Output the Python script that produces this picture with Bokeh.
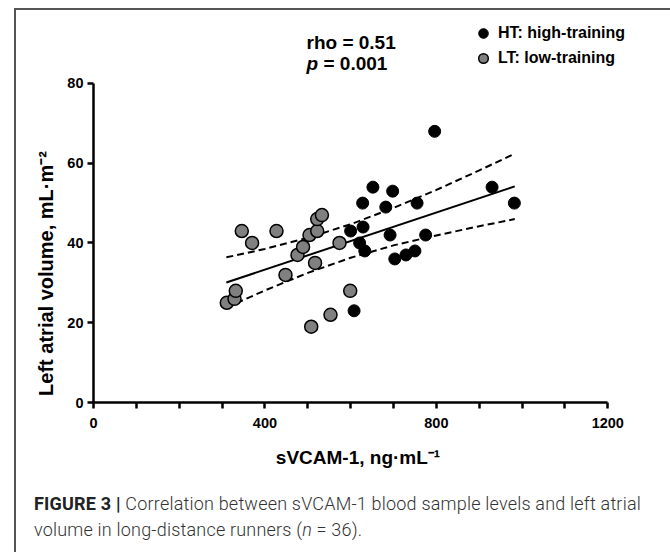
from bokeh.plotting import figure
from bokeh.models import (Label, Legend, LegendItem, Div, FixedTicker, Range1d,
                          ColumnDataSource)
from bokeh.layouts import column
from bokeh.embed import file_html
from bokeh.resources import INLINE

# ---- data ----
ht_x = [600, 608, 621, 628, 629, 633, 652, 682, 692, 698, 703, 729, 750, 755, 775, 796, 930, 982]
ht_y = [43, 23, 40, 50, 44, 38, 54, 49, 42, 53, 36, 37, 38, 50, 42, 68, 54, 50]
lt_x = [311, 329, 332, 346, 370, 427, 448, 476, 489, 504, 517, 522, 522, 533, 508, 553, 599, 574]
lt_y = [25, 26, 28, 43, 40, 43, 32, 37, 39, 42, 35, 43, 46, 47, 19, 22, 28, 40]
fit_x = [310, 983]
fit_y = [30.1, 54.2]
band_x = [310, 400, 500, 600, 700, 800, 900, 983]
band_upper = [36.4, 38.5, 41.3, 44.7, 48.8, 53.3, 58.2, 62.4]
band_lower = [23.8, 28.1, 32.5, 36.3, 39.4, 41.9, 44.2, 46.0]
x_ticks = [0, 400, 800, 1200]
x_minor = [100, 200, 300, 500, 600, 700, 900, 1000, 1100]
y_ticks = [0, 20, 40, 60, 80]

FONT = "Liberation Sans"
EM = "\u2003"

# frame is larger than the axes (room for legend / stats text); axes drawn with bounds
p = figure(width=648, height=460, output_backend="svg", toolbar_location=None,
           x_range=Range1d(0, 1323), y_range=Range1d(0, 97.3),
           min_border_left=77, min_border_right=4, min_border_top=4,
           min_border_bottom=68)
p.outline_line_color = None
p.xgrid.visible = False
p.ygrid.visible = False

for ax in (p.xaxis[0], p.yaxis[0]):
    ax.axis_line_width = 2.5
    ax.axis_line_color = "black"
    ax.major_tick_line_width = 2.5
    ax.major_tick_line_color = "black"
    ax.major_tick_in = 0
    ax.major_tick_out = 6
    ax.minor_tick_in = 0
    ax.minor_tick_out = 6
    ax.minor_tick_line_width = 2.5
    ax.minor_tick_line_color = "black"
    ax.major_label_text_font = FONT
    ax.major_label_text_font_style = "bold"
    ax.major_label_text_font_size = "14.5px"
    ax.major_label_text_color = "black"
    ax.axis_label_text_font = FONT
    ax.axis_label_text_font_style = "bold"
    ax.axis_label_text_color = "black"

p.xaxis.bounds = (0, 1200)
p.yaxis.bounds = (0, 80)
p.xaxis.ticker = FixedTicker(ticks=x_ticks, minor_ticks=x_minor)
p.yaxis.ticker = FixedTicker(ticks=y_ticks)
p.yaxis.minor_tick_line_color = None
p.xaxis.major_label_standoff = 9
p.yaxis.major_label_standoff = 4
# trailing em spaces keep the visible label centred under / beside the drawn axis
p.xaxis.axis_label = "sVCAM-1, ng·mL⁻¹" + EM * 2
p.yaxis.axis_label = "Left atrial volume, mL·m⁻²" + EM * 6 + "\u2002"
p.xaxis.axis_label_text_font_size = "19px"
p.yaxis.axis_label_text_font_size = "20px"
p.xaxis.axis_label_standoff = 16
p.yaxis.axis_label_standoff = 7

band_src = ColumnDataSource(dict(x=band_x, up=band_upper, lo=band_lower))
p.line("x", "up", source=band_src, line_color="black", line_width=2, line_dash="7 4")
p.line("x", "lo", source=band_src, line_color="black", line_width=2, line_dash="7 4")
p.line(fit_x, fit_y, line_color="black", line_width=2)

lt_src = ColumnDataSource(dict(x=lt_x, y=lt_y))
ht_src = ColumnDataSource(dict(x=ht_x, y=ht_y))
r_lt = p.scatter("x", "y", source=lt_src, size=13, fill_color="#808080",
                 line_color="black", line_width=1.5)
r_ht = p.scatter("x", "y", source=ht_src, size=12, fill_color="black",
                 line_color="black", line_width=1)

legend = Legend(items=[LegendItem(label="HT: high-training", renderers=[r_ht]),
                       LegendItem(label="LT: low-training", renderers=[r_lt])],
                location=(378, 332), orientation="vertical",
                glyph_width=24, glyph_height=24, label_height=24, spacing=1,
                label_standoff=3, padding=0, margin=0,
                border_line_color=None, background_fill_alpha=0,
                label_text_font=FONT, label_text_font_style="bold",
                label_text_font_size="16px", label_text_color="black")
p.add_layout(legend)

for txt, x, y, style in [("rho = 0.51", 213, 360, "bold"),
                          ("p", 213, 339.5, "bold italic"),
                          ("= 0.001", 230, 339.5, "bold")]:
    p.add_layout(Label(x=x, y=y, x_units="screen", y_units="screen", text=txt,
                       text_font=FONT, text_font_style=style,
                       text_font_size="19px", text_color="black",
                       text_baseline="alphabetic"))

cap = Div(text='<span style="font-weight:700;color:#222">FIGURE 3 |</span> '
               'Correlation between sVCAM-1 blood sample levels and left atrial<br>'
               'volume in long-distance runners (<i>n</i> = 36).',
          width=648, height=74,
          styles={"font-family": "Roboto", "font-weight": "300",
                  "font-size": "18px", "letter-spacing": "0.2px",
                  "line-height": "26px", "color": "#333",
                  "padding-left": "13px", "padding-top": "16px",
                  "box-sizing": "border-box", "white-space": "nowrap"})

layout = column(p, cap, spacing=0,
                styles={"border-top": "2px solid #555", "border-left": "2px solid #555",
                        "border-right": "2px solid #555",
                        "margin-left": "14px", "margin-top": "8px"})

open("out.html", "w").write(file_html(layout, INLINE))
